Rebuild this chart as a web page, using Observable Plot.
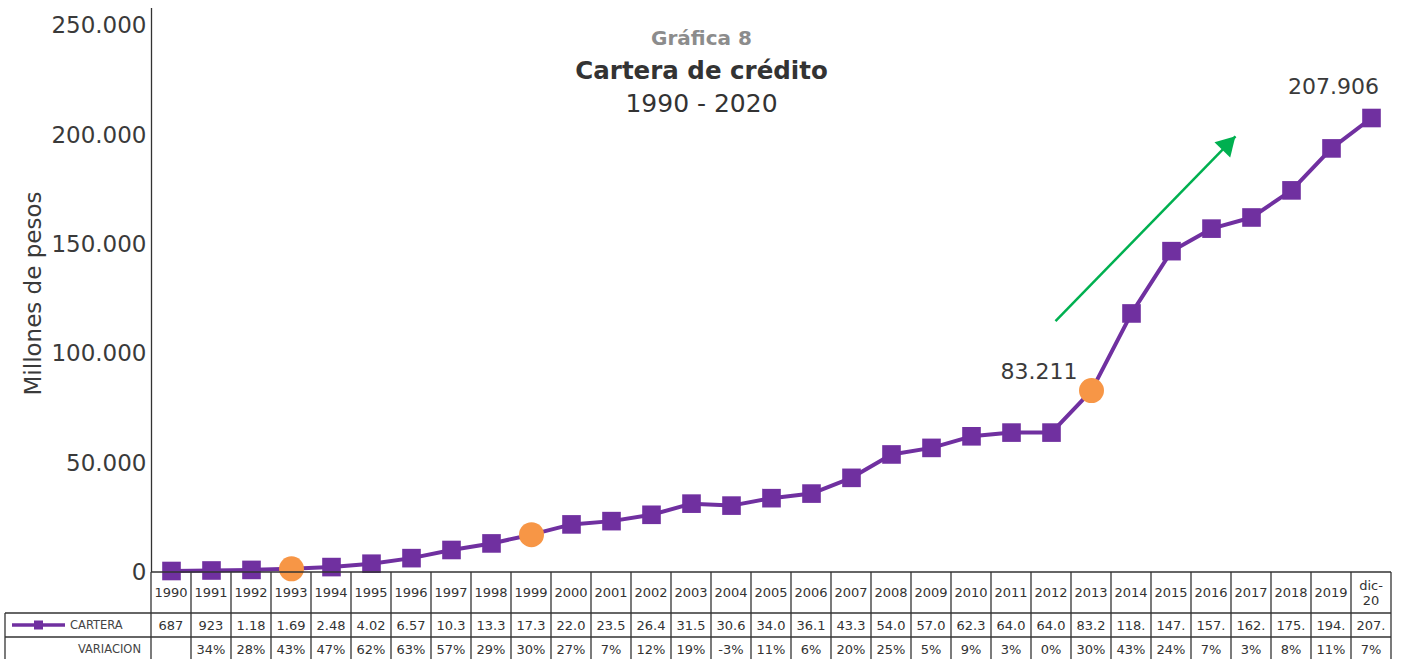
<!DOCTYPE html>
<html><head><meta charset="utf-8">
<script src="https://cdn.jsdelivr.net/npm/d3@7"></script>
<script src="https://cdn.jsdelivr.net/npm/@observablehq/plot@0.6"></script>
<style>
html,body{margin:0;padding:0;background:#fff;}
#chart{width:1405px;height:659px;overflow:hidden}
#chart svg{font-family:"DejaVu Sans",sans-serif;display:block}
</style></head><body><div id="chart"></div>
<script>
// ---- data ----
const years = [1990,1991,1992,1993,1994,1995,1996,1997,1998,1999,2000,2001,2002,2003,2004,2005,2006,2007,2008,2009,2010,2011,2012,2013,2014,2015,2016,2017,2018,2019,2020];
const yearLabels = ["1990","1991","1992","1993","1994","1995","1996","1997","1998","1999","2000","2001","2002","2003","2004","2005","2006","2007","2008","2009","2010","2011","2012","2013","2014","2015","2016","2017","2018","2019","dic-\n20"];
const cartera = [687,923,1180,1690,2480,4020,6570,10300,13300,17300,22000,23500,26400,31500,30600,34000,36100,43300,54000,57000,62300,64000,64000,83211,118500,147000,157300,162400,174800,194000,207906];
const carteraLabels = ["687","923","1.18","1.69","2.48","4.02","6.57","10.3","13.3","17.3","22.0","23.5","26.4","31.5","30.6","34.0","36.1","43.3","54.0","57.0","62.3","64.0","64.0","83.2","118.","147.","157.","162.","175.","194.","207."];
const variacion = ["","34%","28%","43%","47%","62%","63%","57%","29%","30%","27%","7%","12%","19%","-3%","11%","6%","20%","25%","5%","9%","3%","0%","30%","43%","24%","7%","3%","8%","11%","7%"];
const highlightYears = [1993,1999,2013];
const labelYears = [2013,2020];
const yTicks = [0,50000,100000,150000,200000,250000];
const arrowPts = [{x1:2012.1, y1:115000, x2:2016.6, y2:199500}];
const titleLines = ["Gráfica 8","Cartera de crédito","1990 - 2020"];
const yLabel = "Millones de pesos";
const seriesName = "CARTERA", variacionName = "VARIACION";

const data = years.map((y,i)=>({year:y, value:cartera[i]}));
const fmt = d3.formatLocale({decimal:",", thousands:".", grouping:[3], currency:["$",""]}).format(",d");
const purple = "#7030A0", orange = "#F79646", green = "#00B050", ink = "#333";

const titleOpts = {frameAnchor:"top-left", dx:550, textAnchor:"middle", lineAnchor:"middle"};
const chart = Plot.plot({
  width:1405, height:659,
  marginLeft:151, marginRight:14, marginTop:8, marginBottom:87,
  x:{type:"linear", domain:[1989.5,2020.5], axis:null},
  y:{domain:[0,258000], axis:null},
  marks:[
    Plot.axisY({ticks:yTicks, tickFormat:fmt, tickSize:0, tickPadding:5, fontSize:23, fill:"#3a3a3a", label:null}),
    Plot.ruleX([1989.5], {stroke:ink, strokeWidth:1.3}),
    Plot.text([yLabel], {frameAnchor:"left", rotate:-90, dx:-118, dy:3, textAnchor:"middle", lineAnchor:"middle", fontSize:23, fill:"#3a3a3a"}),
    Plot.text([titleLines[0]], {...titleOpts, dy:30, fontSize:20, fontWeight:"bold", fill:"#8c8c8c"}),
    Plot.text([titleLines[1]], {...titleOpts, dy:63, fontSize:24.5, fontWeight:"bold", fill:ink}),
    Plot.text([titleLines[2]], {...titleOpts, dy:95, fontSize:25, fill:ink}),
    Plot.line(data, {x:"year", y:"value", stroke:purple, strokeWidth:4}),
    Plot.dot(data.filter(d=>!highlightYears.includes(d.year)), {x:"year", y:"value", symbol:"square", r:10.5, fill:purple}),
    Plot.dot(data.filter(d=>highlightYears.includes(d.year)), {x:"year", y:"value", r:12.5, fill:orange}),
    Plot.link(arrowPts, {x1:"x1", y1:"y1", x2:"x2", y2:"y2", stroke:green, strokeWidth:2.5}),
    Plot.dot(arrowPts, {x:"x2", y:"y2", symbol:"triangle", r:8.1, rotate:44, dx:-8.8, dy:9, fill:green}),
    Plot.text(data.filter(d=>d.year===labelYears[0]), {x:"year", y:"value", text:d=>fmt(d.value), dx:-14, dy:-19, textAnchor:"end", fontSize:22, fill:"#3a3a3a"}),
    Plot.text(data.filter(d=>d.year===labelYears[1]), {x:"year", y:"value", text:d=>fmt(d.value), dx:-38, dy:-31, fontSize:22, fill:"#3a3a3a"})
  ]
});
document.getElementById("chart").appendChild(chart);

// ---- data table under the axis, positioned with Plot's scales ----
const xs = chart.scale("x"), ys = chart.scale("y");
const X = v => xs.apply(v), Y = v => ys.apply(v);
const tTop = Y(0), r1 = tTop + 41, r2 = r1 + 24, tBottom = 659 + 5;
const tLeft = X(1989.5), tRight = X(2020.5), legendLeft = 5;
const svg = d3.select(chart);
const g = svg.append("g").attr("stroke", ink).attr("stroke-width", 1.3).attr("fill","none");
const hl = (x1,x2,y) => g.append("line").attr("x1",x1).attr("x2",x2).attr("y1",y).attr("y2",y);
const vl = (x,y1,y2) => g.append("line").attr("x1",x).attr("x2",x).attr("y1",y1).attr("y2",y2);
hl(tLeft, tRight, tTop); hl(legendLeft, tRight, r1); hl(legendLeft, tRight, r2);
vl(legendLeft, r1, tBottom);
years.forEach(y => vl(X(y-0.5), tTop, tBottom));
vl(X(2020.5), tTop, tBottom);
const t = svg.append("g").attr("fill", ink).attr("font-size", 13).attr("text-anchor","middle").attr("dominant-baseline","central");
years.forEach((y,i) => {
  const parts = yearLabels[i].split("\n");
  const mid = (tTop + r1)/2;
  parts.forEach((p,j) => t.append("text").attr("x", X(y)).attr("y", mid + (j - (parts.length-1)/2)*15).text(p));
  t.append("text").attr("x", X(y)).attr("y", (r1+r2)/2).text(carteraLabels[i]);
  t.append("text").attr("x", X(y)).attr("y", r2 + 12).text(variacion[i]);
});
// legend key
const lk = svg.append("g");
lk.append("line").attr("x1",12).attr("x2",65).attr("y1",(r1+r2)/2).attr("y2",(r1+r2)/2).attr("stroke",purple).attr("stroke-width",3.5);
lk.append("rect").attr("x",34).attr("y",(r1+r2)/2-4.5).attr("width",9).attr("height",9).attr("fill",purple);
lk.append("text").attr("x",70).attr("y",(r1+r2)/2).attr("text-anchor","start").attr("dominant-baseline","central").attr("font-size",11.5).attr("fill","#444").text(seriesName);
lk.append("text").attr("x",141).attr("y",r2+12).attr("text-anchor","end").attr("dominant-baseline","central").attr("font-size",11.5).attr("fill","#444").text(variacionName);
</script></body></html>
